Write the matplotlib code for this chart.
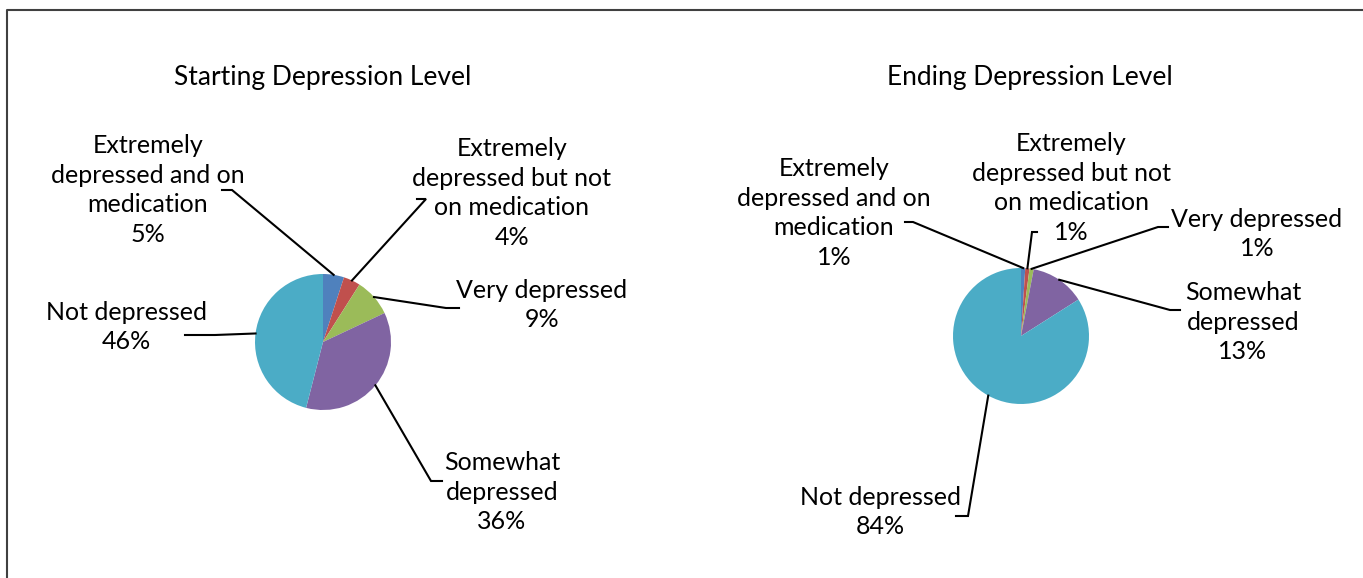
#!/usr/bin/env python3
import math
import matplotlib
matplotlib.use('Agg')
import matplotlib.pyplot as plt

plt.rcParams['font.family'] = ['Lato', 'DejaVu Sans']

W, H = 1363, 578

# data
categories = ['Extremely\ndepressed and on\nmedication',
              'Extremely\ndepressed but not\non medication',
              'Very depressed',
              'Somewhat\ndepressed',
              'Not depressed']
start_values = [5, 4, 9, 36, 46]
end_values = [1, 1, 1, 13, 84]
titles = ['Starting Depression Level', 'Ending Depression Level']

colors = ['#4F81BD', '#C0504D', '#9BBB59', '#8064A2', '#4BACC6']

# layout (pixel coords, y from top)
pie_centers = [(323, 342), (1021, 336)]
pie_radius = 68
title_pos = [(323, 77), (1030, 77)]
label_pos = [
    [(148, 190), (512, 193), (542, 305), (502, 492), (126, 327)],
    [(834, 213), (1071, 188), (1257, 234), (1243, 322), (880, 512)],
]
# leader: (elbow, end)
leaders = [
    [((232, 190), (222, 190)), ((426, 199), (417, 199)),
     ((446, 308), (459, 308)), ((431, 481), (442, 481)),
     ((215, 335), (185, 335))],
    [((913, 222), (905, 222)), ((1032, 232), (1037, 232)),
     ((1158, 227), (1168, 227)), ((1170, 310), (1180, 310)),
     ((968, 516), (956, 516))],
]

fig = plt.figure(figsize=(W / 100, H / 100), dpi=100)
ax = fig.add_axes([0, 0, 1, 1])

for p, vals in enumerate([start_values, end_values]):
    cx, cy = pie_centers[p]
    ax.pie(vals, colors=colors, startangle=90, counterclock=False,
           center=(cx, H - cy), radius=pie_radius,
           wedgeprops=dict(linewidth=0))
    ax.text(title_pos[p][0], H - title_pos[p][1], titles[p],
            ha='center', va='center', fontsize=19)
    total = float(sum(vals))
    cum = 0.0
    for i, v in enumerate(vals):
        mid = 90 - 360 * (cum + v / 2.0) / total
        cum += v
        sx = cx + pie_radius * math.cos(math.radians(mid))
        sy = cy - pie_radius * math.sin(math.radians(mid))
        (ex, ey), (tx, ty) = leaders[p][i]
        ax.plot([sx, ex, tx], [H - sy, H - ey, H - ty], color='black',
                lw=1.5, solid_joinstyle='miter')
        lx, ly = label_pos[p][i]
        ax.text(lx, H - ly, '{}\n{}%'.format(categories[i], v),
                ha='center', va='center', fontsize=18, linespacing=1.36,
                multialignment='center')

ax.set_xlim(0, W)
ax.set_ylim(0, H)
ax.set_aspect('auto')
ax.axis('off')

# chart border (only top and left show)
ax.plot([7, 7, W + 10], [-10, H - 10, H - 10], color='#404040', lw=1.5,
        clip_on=False)

fig.savefig('out.png', dpi=100)
